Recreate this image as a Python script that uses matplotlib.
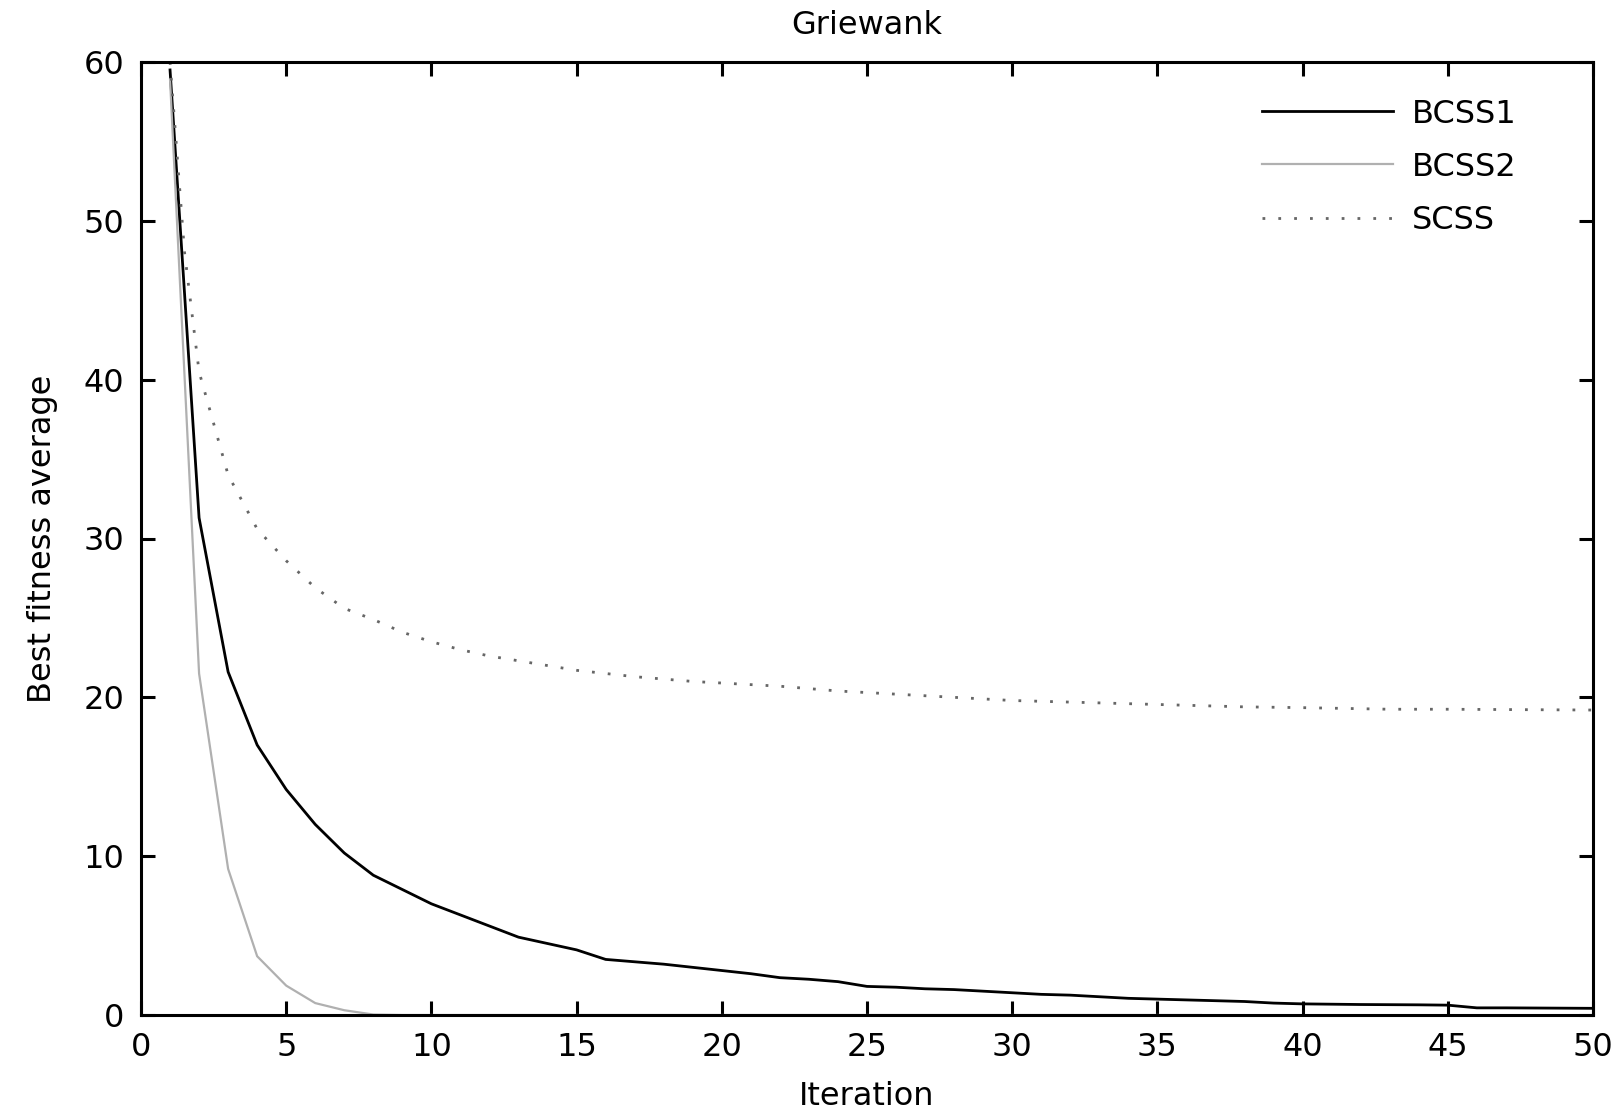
import matplotlib
matplotlib.use("Agg")
import matplotlib.pyplot as plt

plt.rcParams['font.family'] = ['DejaVu Sans']

title = "Griewank"
xlabel = "Iteration"
ylabel = "Best fitness average"
labels = ["BCSS1", "BCSS2", "SCSS"]

# BCSS1 (black solid)
bcss1_x = list(range(1, 51))
bcss1_y = [59.5, 31.3, 21.6, 17.0, 14.2, 12.0, 10.2, 8.8, 7.9, 7.0,
           6.3, 5.6, 4.9, 4.5, 4.1, 3.5, 3.35, 3.2, 3.0, 2.8,
           2.6, 2.35, 2.25, 2.1, 1.8, 1.75, 1.65, 1.6, 1.5, 1.4,
           1.3, 1.25, 1.15, 1.05, 1.0, 0.95, 0.9, 0.85, 0.75, 0.7,
           0.68, 0.66, 0.65, 0.64, 0.62, 0.45, 0.45, 0.44, 0.43, 0.42]

# BCSS2 (light gray solid)
bcss2_x = [1, 2, 3, 4, 5, 6, 7, 8, 9, 10, 15, 20, 25, 30, 36.5]
bcss2_y = [58.9, 21.5, 9.2, 3.7, 1.85, 0.75, 0.3, 0.03, 0.0, 0.0, 0.0, 0.0, 0.0, 0.0, 0.0]

# SCSS (dotted)
scss_x = [1, 1.5, 2, 3, 4, 5, 6, 7, 8, 9, 10, 11, 12, 13, 14, 15, 16, 17, 18, 19,
          20, 22, 24, 26, 28, 30, 32, 35, 38, 40, 43, 45, 50]
scss_y = [60.0, 48.0, 40.5, 34.0, 30.6, 28.6, 26.9, 25.6, 24.9, 24.1, 23.5, 23.0, 22.6,
          22.3, 22.0, 21.7, 21.5, 21.3, 21.15, 21.0, 20.9, 20.7, 20.4, 20.2, 20.0, 19.8,
          19.7, 19.55, 19.4, 19.35, 19.25, 19.25, 19.2]

xticks = [0, 5, 10, 15, 20, 25, 30, 35, 40, 45, 50]
yticks = [0, 10, 20, 30, 40, 50, 60]

fig = plt.figure(figsize=(16.24, 11.11), dpi=100)
ax = fig.add_axes([141/1624, 1 - 1015/1111, 1452/1624, 953/1111])

ax.plot(bcss1_x, bcss1_y, color='black', lw=2.0, label=labels[0])
ax.plot(bcss2_x, bcss2_y, color='#b0b0b0', lw=1.6, label=labels[1])
ax.plot(scss_x, scss_y, color='#666666', lw=2.0, linestyle=(0, (1, 4.7)), label=labels[2])

ax.set_xlim(0, 50)
ax.set_ylim(0, 60)
ax.set_xticks(xticks)
ax.set_yticks(yticks)

for s in ax.spines.values():
    s.set_linewidth(2.2)
    s.set_color('black')

ax.tick_params(direction='in', length=10, width=2.2, top=True, right=True,
               labelsize=23, pad=12, colors='black')

ax.set_title(title, fontsize=23, pad=20)
ax.set_xlabel(xlabel, fontsize=23, labelpad=13)
ax.set_ylabel(ylabel, fontsize=23, labelpad=18)

ax.legend(loc='upper left', bbox_to_anchor=(0.763, 0.975), frameon=False,
          fontsize=23, handlelength=4.1, handletextpad=0.6, labelspacing=0.69,
          borderaxespad=0)

fig.savefig("out.png", dpi=100)
